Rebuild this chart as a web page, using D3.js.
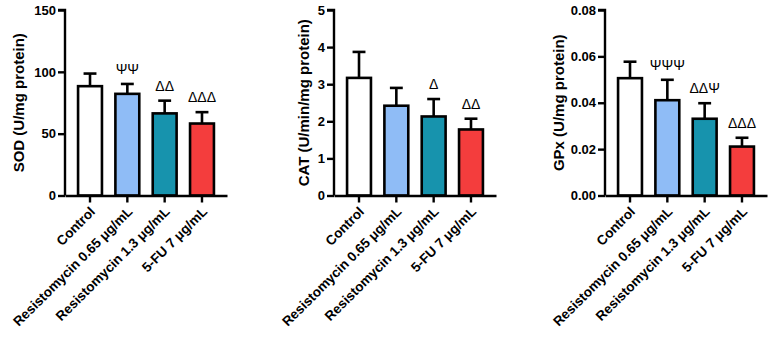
<!DOCTYPE html>
<html>
<head>
<meta charset="utf-8">
<script src="https://cdn.jsdelivr.net/npm/d3@7"></script>
<style>
  body { margin: 0; background: #fff; }
  svg { font-family: "Liberation Sans", Arial, sans-serif; }
</style>
</head>
<body>
<div id="app"></div>
<script>
'use strict'
// groups shared by all three panels
const groups = ['Control', 'Resistomycin 0.65 \u03bcg/mL', 'Resistomycin 1.3 \u03bcg/mL', '5-FU 7 \u03bcg/mL']
const colors = ['#ffffff', '#8fbcf6', '#1793ad', '#f43d3d']

// SOD (U/mg protein)
const sodMean = [88.4, 82.2, 66.4, 58.2]
const sodSd = [10.2, 8.0, 10.3, 9.2]
const sodMarks = ['', '\u03a8\u03a8', '\u0394\u0394', '\u0394\u0394\u0394']
const sodTicks = [0, 50, 100, 150]

// CAT (U/min/mg protein)
const catMean = [3.17, 2.42, 2.13, 1.78]
const catSd = [0.70, 0.48, 0.47, 0.29]
const catMarks = ['', '', '\u0394', '\u0394\u0394']
const catTicks = [0, 1, 2, 3, 4, 5]

// GPx (U/mg protein)
const gpxMean = [0.0506, 0.0411, 0.0331, 0.0211]
const gpxSd = [0.0071, 0.0088, 0.0067, 0.0038]
const gpxMarks = ['', '\u03a8\u03a8\u03a8', '\u0394\u0394\u03a8', '\u0394\u0394\u0394']
const gpxTicks = [0, 0.02, 0.04, 0.06, 0.08]

const panels = [
  { label: 'SOD (U/mg protein)', mean: sodMean, sd: sodSd, marks: sodMarks, ticks: sodTicks, fmt: d3.format('d'), left: 65, titleX: 18 },
  { label: 'CAT (U/min/mg protein)', mean: catMean, sd: catSd, marks: catMarks, ticks: catTicks, fmt: d3.format('d'), left: 334, titleX: 303 },
  { label: 'GPx (U/mg protein)', mean: gpxMean, sd: gpxSd, marks: gpxMarks, ticks: gpxTicks, fmt: d3.format('.2f'), left: 605, titleX: 558 }
]

const W = 774, H = 340
const plotTop = 10, plotBottom = 195.5, plotW = 162

const svg = d3.select('#app').append('svg')
  .attr('width', W)
  .attr('height', H)

panels.forEach(p => {
  const g = svg.append('g').attr('transform', `translate(${p.left},0)`)

  const x = d3.scaleBand()
    .domain(groups)
    .range([0, plotW])
    .paddingInner(0.36)
    .paddingOuter(0.35)

  const y = d3.scaleLinear()
    .domain([0, p.ticks[p.ticks.length - 1]])
    .range([plotBottom, plotTop])

  // bars
  g.selectAll('rect.bar')
    .data(groups)
    .join('rect')
    .attr('class', 'bar')
    .attr('x', d => x(d))
    .attr('y', (d, i) => y(p.mean[i]))
    .attr('width', x.bandwidth())
    .attr('height', (d, i) => plotBottom - y(p.mean[i]))
    .attr('fill', (d, i) => colors[i])
    .attr('stroke', '#000')
    .attr('stroke-width', 2.6)

  // upward error bars
  const cap = x.bandwidth() * 0.27
  groups.forEach((d, i) => {
    const cx = x(d) + x.bandwidth() / 2
    const y0 = y(p.mean[i])
    const y1 = y(p.mean[i] + p.sd[i])
    g.append('line')
      .attr('x1', cx).attr('x2', cx)
      .attr('y1', y0).attr('y2', y1)
      .attr('stroke', '#000').attr('stroke-width', 2.6)
    g.append('line')
      .attr('x1', cx - cap).attr('x2', cx + cap)
      .attr('y1', y1).attr('y2', y1)
      .attr('stroke', '#000').attr('stroke-width', 2.6)
    if (p.marks[i]) {
      g.append('text')
        .attr('x', cx)
        .attr('y', y1 - 10)
        .attr('text-anchor', 'middle')
        .style('font-size', '14px')
        .text(p.marks[i])
    }
  })

  // y axis
  const yAxis = g.append('g')
    .call(d3.axisLeft(y).tickValues(p.ticks).tickFormat(p.fmt).tickSize(7).tickPadding(2))
  yAxis.select('.domain').attr('d', `M-7,${plotTop}H0V${plotBottom}`)
  yAxis.selectAll('path, line').attr('stroke-width', 2.4)
  yAxis.selectAll('text')
    .style('font-size', '13px')
    .style('font-weight', 'bold')
    .attr('fill', '#000')

  // x axis
  const xAxis = g.append('g')
    .attr('transform', `translate(0,${plotBottom})`)
    .call(d3.axisBottom(x).tickSize(7).tickSizeOuter(0))
  xAxis.selectAll('path, line').attr('stroke-width', 2.4)
  xAxis.selectAll('text')
    .style('font-size', '13.5px')
    .style('font-weight', 'bold')
    .attr('fill', '#000')
    .attr('text-anchor', 'end')
    .attr('dy', null)
    .attr('y', 0)
    .attr('transform', 'translate(6,17) rotate(-45)')

  // y axis title
  svg.append('text')
    .attr('transform', `translate(${p.titleX + 5.5},${(plotTop + plotBottom) / 2}) rotate(-90)`)
    .attr('text-anchor', 'middle')
    .style('font-size', '15px')
    .style('font-weight', 'bold')
    .text(p.label)
})
</script>
</body>
</html>
